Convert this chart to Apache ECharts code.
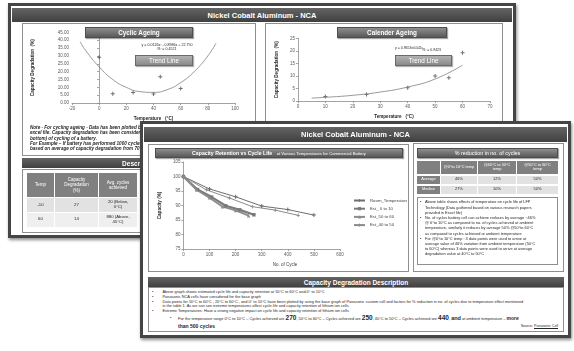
<!DOCTYPE html>
<html>
<head>
<meta charset="utf-8">
<script src="https://cdn.jsdelivr.net/npm/echarts@6/dist/echarts.min.js"></script>
<style>
body{margin:0;width:574px;height:351px;position:relative;overflow:hidden;background:#fff;font-family:"Liberation Sans Narrow","Liberation Sans",Arial,sans-serif;color:#262626;filter:blur(0.3px)}
.a{position:absolute;box-sizing:border-box}
.c{display:flex;align-items:center;justify-content:center;text-align:center}
.slide{border:3px solid #454545;background:#fff;box-shadow:1px 2px 3px rgba(0,0,0,.45)}
.hdr{background:linear-gradient(#646464,#404040);color:#fff;font-weight:bold}
.panel{border:1px solid #8f8f8f;background:#fff}
.btn{background:linear-gradient(#8e8e8e,#595959);color:#fff;border:1px solid #4d4d4d;box-shadow:1px 1px 1px rgba(0,0,0,.35);font-weight:bold}
.btn2{background:linear-gradient(#b3b3b3,#8a8a8a);color:#fff;border:1px solid #6a6a6a;box-shadow:1px 1px 1px rgba(0,0,0,.3)}
.th{background:#808080;color:#fff;line-height:1.15}
.td{background:#e2e2e2;line-height:1.15}
.ln{white-space:nowrap}
</style>
</head>
<body>
<script>
// cyclic ageing (back slide, left)
var cycTemp = [0, 10, 25, 40, 45, 60]
var cycDeg = [29.2, 6.0, 6.8, 5.8, 16.8, 9.3]
var cycFitTemp = [-14, -10, 0, 10, 20, 30, 40, 50, 60, 70, 80, 86]
var cycFitDeg = [39, 33.5, 23, 15, 10, 7.3, 6.8, 8.5, 13, 20, 30, 38]

// calendar ageing (back slide, right)
var calTemp = [10, 25, 40, 50, 55, 60]
var calDeg = [1.8, 2.6, 5.3, 10.0, 9.3, 19.2]
var calFitTemp = [5, 10, 20, 30, 40, 50, 60]
var calFitDeg = [1.2, 1.5, 2.3, 3.6, 5.6, 8.8, 14.3]

// capacity retention vs cycle life (front slide)
var capNames = ['Room_Temperature', 'Est_ 0 to 10', 'Est_50 to 60', 'Est_40 to 50']
var capRoomX = [0, 100, 200, 300, 400, 500]
var capRoomY = [100, 95.7, 93.0, 89.8, 88.6, 86.7]
var cap0X = [0, 54, 108, 162, 216, 270]
var cap0Y = [100, 95.5, 92.9, 89.9, 88.5, 86.8]
var cap50X = [0, 50, 100, 150, 200, 250]
var cap50Y = [100, 95.4, 92.7, 89.6, 88.3, 86.5]
var cap40X = [0, 88, 176, 264, 352, 440]
var cap40Y = [100, 95.4, 92.6, 89.6, 88.4, 86.6]

// tables
var backHead = ['Temp', 'Capacity<br>Degradation<br>(%)', 'Avg. cycles<br>achieved']
var backTemp = ['-10', '60']
var backDeg = ['27', '14']
var backCycles = ['20 (Below,<br>0°C)', '880 (Above,<br>45°C)']
var redHead = ['', '@0°to 10°C temp', '@40°C to 50°C<br>temp', '@50°C to 60°C<br>temp']
var redRows = ['Average', 'Median']
var redAvg = ['46%', '12%', '50%']
var redMed = ['27%', '10%', '50%']

var noteLines = [
  'Note - For cycling ageing - Data has been plotted by considering avg. capacity degradation from the',
  'excel file. Capacity degradation has been considered at different temperatures (from top to',
  'bottom) of cycling of a battery.',
  'For Example – If battery has performed 1000 cycles at 25°C then capacity degradation is',
  'based on average of capacity degradation from 70 data points'
]
var redLines = [
  ['•', 'Above table shows effects of temperature  on cycle life of LFP'],
  ['', 'Technology (Data gathered  based on various research  papers'],
  ['', 'provided in Excel file)'],
  ['•', 'No. of cycles battery cell can achieve reduces by average ~46%'],
  ['', '@ 0°to 10°C as compared to no. of cycles achieved at ambient'],
  ['', 'temperature, similarly it reduces by average 50% @50°to 60°C'],
  ['', 'as compared  to cycles achieved at ambient temperature'],
  ['•', 'For @0°to 10°C temp : 3 data points were used to arrive  at'],
  ['', 'average  value of 46% variation from ambient temperature  (50°C'],
  ['', 'to 60°C) whereas  3 data points were used to arrive  at average'],
  ['', 'degradation  value at 40°C to 50°C']
]
var descLines = [
  ['•', 'Above graph shows estimated cycle life and capacity retention at 50°C to 60°C  and 0° to 10°C'],
  ['•', 'Panasonic NCA cells have considered for the base graph'],
  ['•', 'Data  points for 50°C to 60°C , 20°C to 60°C , and 0° to 10°C have been plotted by using the base graph of Panasonic  custom cell and factors for % reduction in no. of cycles due to temperature  effect  mentioned'],
  ['', 'in the table 1. As we can see extreme  temperatures  affect cycle life and capacity retention of lithium ion cells'],
  ['•', 'Extreme  Temperatures:  Have a strong negative  impact on cycle life and capacity retention  of lithium ion cells']
]

var FONT = '"Liberation Sans Narrow","Liberation Sans",Arial,sans-serif'
var crossPath = 'path://M3,0H5V3H8V5H5V8H3V5H0V3H3Z'

function box(x, y, w, h, cls, html, css) {
  var d = document.createElement('div')
  d.className = 'a ' + (cls || '')
  d.style.cssText = 'left:' + x + 'px;top:' + y + 'px;width:' + w + 'px;height:' + h + 'px;' + (css || '')
  d.innerHTML = html || ''
  document.body.appendChild(d)
  return d
}

function valAxis(min, max, step, fmt, name, gap, extra) {
  var ax = {
    type: 'value', min: min, max: max, interval: step,
    splitLine: { show: false },
    axisLine: { show: true, lineStyle: { color: '#8c8c8c', width: 0.8 } },
    axisTick: { show: true, length: 2, lineStyle: { color: '#8c8c8c', width: 0.8 } },
    axisLabel: { fontSize: 4.5, color: '#595959', margin: 3, fontFamily: FONT, formatter: fmt },
    name: name, nameLocation: 'middle', nameGap: gap,
    nameTextStyle: { fontSize: 4.6, fontWeight: 'bold', color: '#262626', fontFamily: FONT }
  }
  for (var k in extra) ax[k] = extra[k]
  return ax
}

function pairs(xs, ys) {
  return xs.map(function (x, i) { return [x, ys[i]] })
}

// ---------- back slide ----------
box(8, 3, 508, 235, 'slide')
box(12, 8, 500, 14, 'hdr c', 'Nickel Cobalt Aluminum - NCA', 'font-size:7.5px')
box(22, 23, 234, 133, 'panel')
box(265, 23, 238, 105, 'panel')

var cycEl = box(22, 24, 233, 102)
var cycChart = echarts.init(cycEl)
cycChart.setOption({
  animation: false,
  grid: { left: 17, top: 8.3, width: 196, height: 75 },
  xAxis: valAxis(-20, 100, 20, null, 'Temperature   (°C)', 10),
  yAxis: valAxis(0, 45, 5, function (v) { return v.toFixed(2) }, 'Capacity Degradation  (%)', 37,
    { axisLine: { show: true, onZero: true, lineStyle: { color: '#8c8c8c', width: 0.8 } } }),
  series: [
    { type: 'line', data: pairs(cycFitTemp, cycFitDeg), smooth: true, showSymbol: false,
      lineStyle: { color: '#7f7f7f', width: 0.8 } },
    { type: 'scatter', data: pairs(cycTemp, cycDeg), symbol: crossPath, symbolSize: 4,
      itemStyle: { color: '#4d4d4d' } }
  ]
})

var calEl = box(266, 24, 236, 100)
var calChart = echarts.init(calEl)
calChart.setOption({
  animation: false,
  grid: { left: 26.7, top: 14.3, width: 197.3, height: 67.7 },
  xAxis: valAxis(0, 70, 10, null, 'Temperature   (°C)', 10),
  yAxis: valAxis(0, 25, 5, null, 'Capacity Degradation  (%)', 15),
  series: [
    { type: 'line', data: pairs(calFitTemp, calFitDeg), smooth: true, showSymbol: false,
      lineStyle: { color: '#7f7f7f', width: 0.8 } },
    { type: 'scatter', data: pairs(calTemp, calDeg), symbol: crossPath, symbolSize: 4,
      itemStyle: { color: '#4d4d4d' } }
  ]
})

box(85, 27, 108, 11, 'btn c', 'Cyclic Ageing', 'font-size:6.3px')
box(135, 55, 58, 11, 'btn2 c', 'Trend  Line', 'font-size:6.3px')
box(126, 44, 82, 8, 'c ln', 'y = 0.0126x² - 0.8986x + 22.750<br>R² = 0.4521', 'font-size:3.6px;line-height:3.6px')
box(337, 27, 110, 11, 'btn c', 'Calender  Ageing', 'font-size:6.3px')
box(395, 55, 57, 11, 'btn2 c', 'Trend  Line', 'font-size:6.3px')
box(393, 45, 50, 8, 'c ln', 'y = 0.9653e<span style="font-size:2.6px;vertical-align:1px">0.0442x</span><br>R² = 0.9423', 'font-size:3.5px;line-height:3.6px')

noteLines.forEach(function (t, i) {
  box(30, 125 + i * 5.25, 230, 6, 'ln', t, 'font-size:4.6px;font-weight:bold;font-style:italic')
})

box(22, 158, 236, 10, 'hdr c', 'Description', 'font-size:6.5px')
box(22, 169, 236, 64, 'panel')
var bx = [27, 55, 99], bw = [27, 43, 38]
backHead.forEach(function (t, i) { box(bx[i], 173, bw[i], 24, 'th c', t, 'font-size:4.5px') })
for (var r = 0; r < 2; r++) {
  var row = [backTemp[r], backDeg[r], backCycles[r]]
  row.forEach(function (t, i) {
    box(bx[i], 198 + r * 14.5, bw[i], 14, 'td c', t, 'font-size:4.3px;' + (r ? 'background:#efefef' : ''))
  })
}

// ---------- front slide ----------
box(140, 121, 431, 217, 'slide')
box(144, 127, 423, 15, 'hdr c', 'Nickel Cobalt Aluminum - NCA', 'font-size:7.5px')
box(148, 144, 261, 128, 'panel')
box(155, 148, 248, 10, 'btn c',
  '<span style="font-size:5.2px">Capacity  Retention vs Cycle  Life</span>&nbsp;<span style="font-size:4.2px;font-weight:normal">at Various Temperatures for Commercial Battery</span>', '')

var capEl = box(149, 158, 258, 112)
var capChart = echarts.init(capEl)
var capStyles = [
  { x: capRoomX, y: capRoomY, sym: crossPath, size: 4, w: 1, c: '#6e6e6e' },
  { x: cap0X, y: cap0Y, sym: 'rect', size: 3.5, w: 2.2, c: '#7a7a7a' },
  { x: cap50X, y: cap50Y, sym: 'triangle', size: 3.5, w: 1.8, c: '#8c8c8c' },
  { x: cap40X, y: cap40Y, sym: crossPath, size: 3.5, w: 1, c: '#8a8a8a' }
]
capChart.setOption({
  animation: false,
  grid: { left: 23, top: 4, width: 168, height: 87 },
  legend: {
    orient: 'vertical', left: 199, top: 35.5, itemWidth: 11, itemHeight: 4, itemGap: 4.2,
    textStyle: { fontSize: 4.3, color: '#404040', fontFamily: FONT }, data: capNames
  },
  xAxis: valAxis(0, 600, 100, null, '', 10),
  yAxis: valAxis(75, 105, 5, null, 'Capacity (%)', 16),
  graphic: [{ type: 'text', x: 136, y: 104.5,
    style: { text: 'No. of Cycle', fontSize: 4.5, textAlign: 'center', fill: '#404040', fontFamily: FONT } }],
  series: capStyles.map(function (s, i) {
    return {
      name: capNames[i], type: 'line', data: pairs(s.x, s.y),
      symbol: s.sym, symbolSize: s.size,
      lineStyle: { color: s.c, width: s.w }, itemStyle: { color: s.c }
    }
  })
})

box(413, 143, 151, 129, 'panel')
box(417, 148, 141, 10, 'btn c', '% reduction in  no. of cycles', 'font-size:5.4px;font-weight:normal')
var rx = [417, 441, 478, 517], rw = [23, 36, 38, 41]
redHead.forEach(function (t, i) { box(rx[i], 160.5, rw[i], 13, 'th c', t, 'font-size:3.9px') })
redRows.forEach(function (name, r) {
  var vals = r ? redMed : redAvg
  box(rx[0], 175.5 + r * 10, rw[0], 8, 'th c', name, 'font-size:3.9px')
  vals.forEach(function (t, i) { box(rx[i + 1], 175.5 + r * 10, rw[i + 1], 8, 'td c', t, 'font-size:3.9px') })
})
box(417, 197, 141, 68, 'panel')
redLines.forEach(function (l, i) {
  box(420, 199.3 + i * 5.2, 4, 5, 'ln', l[0], 'font-size:4px')
  box(425, 199.3 + i * 5.2, 132, 5, 'ln', l[1], 'font-size:3.9px')
})

box(148, 277, 416, 10, 'hdr c', 'Capacity Degradation Description', 'font-size:6.5px')
box(148, 287, 416, 45, 'panel')
var descY = [288.5, 293.7, 298.7, 302.8, 307.8]
descLines.forEach(function (l, i) {
  box(152, descY[i], 6, 5, 'ln', l[0], 'font-size:4px')
  box(162.5, descY[i], 400, 5, 'ln', l[1], 'font-size:3.9px')
})
box(170, 315, 6, 5, 'ln', '•', 'font-size:4px')
box(178, 313.5, 380, 9, 'ln',
  'For the temperature  range 0°C to 10°C – Cycles achieved  are <b style="font-size:6.5px">270</b>, 50°C to 60°C – Cycles achieved are  <b style="font-size:6.5px">250</b>,  40°C to 50°C – Cycles achieved are <b style="font-size:6.5px">440</b>, <b style="font-size:5.5px">and</b> at ambient  temperature  – <b style="font-size:5px">more</b>',
  'font-size:3.9px;font-weight:normal')
box(178, 322.5, 100, 8, 'ln', '<b>than 500 cycles</b>', 'font-size:5px')
box(500, 324, 58, 5, 'ln', 'Source: <u>Panasonic Cell</u>', 'font-size:3.6px;text-align:right')
</script>
</body>
</html>
